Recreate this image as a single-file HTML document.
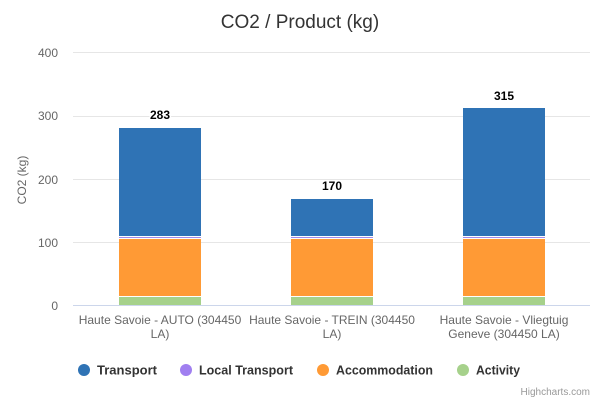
<!DOCTYPE html>
<html>
<head>
<meta charset="utf-8">
<style>
  html,body{margin:0;padding:0;background:#fff;}
  svg{display:block;font-family:"Liberation Sans","DejaVu Sans",sans-serif;}
</style>
</head>
<body>
<svg width="600" height="400" viewBox="0 0 600 400" xmlns="http://www.w3.org/2000/svg">
  <rect width="600" height="400" fill="#fff"/>
  <!-- title -->
  <text x="300" y="28" text-anchor="middle" font-size="19" fill="#333">CO2 / Product (kg)</text>

  <!-- gridlines -->
  <g stroke="#e6e6e6" stroke-width="1">
    <line x1="73" y1="52.5" x2="590" y2="52.5"/>
    <line x1="73" y1="116.5" x2="590" y2="116.5"/>
    <line x1="73" y1="179.5" x2="590" y2="179.5"/>
    <line x1="73" y1="242.5" x2="590" y2="242.5"/>
  </g>

  <!-- y labels -->
  <g font-size="12" fill="#666" text-anchor="end">
    <text x="58" y="57">400</text>
    <text x="58" y="120">300</text>
    <text x="58" y="184">200</text>
    <text x="58" y="247">100</text>
    <text x="58" y="310">0</text>
  </g>
  <text x="0" y="0" font-size="12" fill="#666" text-anchor="middle" transform="translate(26,180) rotate(-90)">CO2 (kg)</text>

  <!-- bars -->
  <g>
    <!-- bar 1 -->
    <rect x="119" y="128" width="82" height="108" fill="#2f73b5"/>
    <rect x="119" y="237" width="82" height="1" fill="#a48ae8"/>
    <rect x="119" y="239" width="82" height="57" fill="#ff9a35"/>
    <rect x="119" y="297" width="82" height="8" fill="#a6d18b"/>
    <!-- bar 2 -->
    <rect x="291" y="199" width="82" height="37" fill="#2f73b5"/>
    <rect x="291" y="237" width="82" height="1" fill="#a48ae8"/>
    <rect x="291" y="239" width="82" height="57" fill="#ff9a35"/>
    <rect x="291" y="297" width="82" height="8" fill="#a6d18b"/>
    <!-- bar 3 -->
    <rect x="463" y="108" width="82" height="128" fill="#2f73b5"/>
    <rect x="463" y="237" width="82" height="1" fill="#a48ae8"/>
    <rect x="463" y="239" width="82" height="57" fill="#ff9a35"/>
    <rect x="463" y="297" width="82" height="8" fill="#a6d18b"/>
  </g>

  <!-- x axis line -->
  <line x1="73" y1="305.5" x2="590" y2="305.5" stroke="#ccd6eb" stroke-width="1"/>

  <!-- data labels -->
  <g font-size="12" font-weight="bold" fill="#000" text-anchor="middle" stroke="#fff" stroke-width="3" paint-order="stroke" stroke-linejoin="round">
    <text x="160" y="119">283</text>
    <text x="332" y="190">170</text>
    <text x="504" y="100">315</text>
  </g>

  <!-- x labels -->
  <g font-size="12" fill="#666" text-anchor="middle">
    <text x="160" y="324">Haute Savoie - AUTO (304450</text>
    <text x="160" y="338">LA)</text>
    <text x="332" y="324">Haute Savoie - TREIN (304450</text>
    <text x="332" y="338">LA)</text>
    <text x="504" y="324">Haute Savoie - Vliegtuig</text>
    <text x="504" y="338">Geneve (304450 LA)</text>
  </g>

  <!-- legend -->
  <g font-size="13" font-weight="bold" fill="#333">
    <circle cx="84" cy="370" r="6" fill="#2f73b5"/>
    <text x="97" y="374.5" textLength="60" lengthAdjust="spacingAndGlyphs">Transport</text>
    <circle cx="186" cy="370" r="6" fill="#a07ff0"/>
    <text x="199" y="374.5" textLength="94" lengthAdjust="spacingAndGlyphs">Local Transport</text>
    <circle cx="323" cy="370" r="6" fill="#ff9a35"/>
    <text x="336" y="374.5" textLength="97" lengthAdjust="spacingAndGlyphs">Accommodation</text>
    <circle cx="463" cy="370" r="6" fill="#a6d18b"/>
    <text x="476" y="374.5" textLength="44" lengthAdjust="spacingAndGlyphs">Activity</text>
  </g>

  <!-- credits -->
  <text x="590" y="395" font-size="10" fill="#999" text-anchor="end">Highcharts.com</text>
</svg>
</body>
</html>
